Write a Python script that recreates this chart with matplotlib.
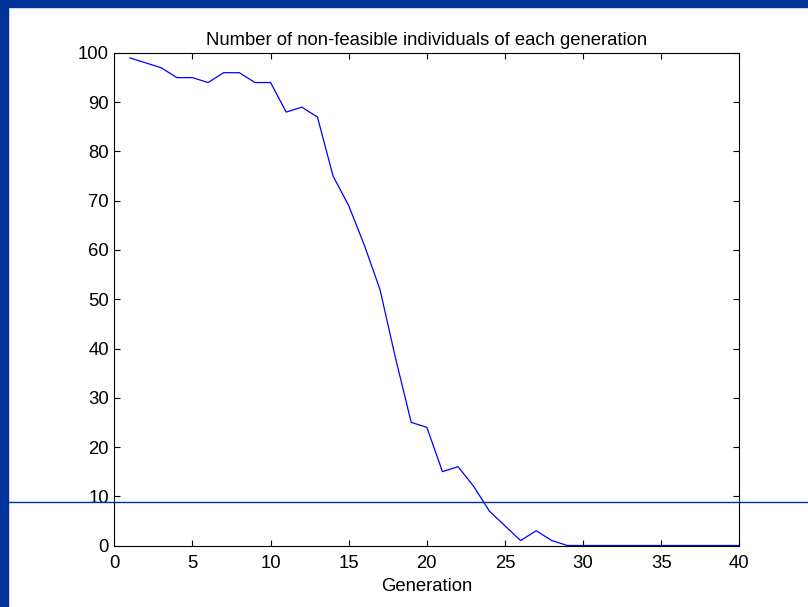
import matplotlib
matplotlib.use("Agg")
from matplotlib import pyplot as plt
from matplotlib.patches import Rectangle
from matplotlib.lines import Line2D

# number of non-feasible individuals per generation
generation = list(range(1, 41))
non_feasible = [99, 98, 97, 95, 95, 94, 96, 96, 94, 94,
                88, 89, 87, 75, 69, 61, 52, 38, 25, 24,
                15, 16, 12, 7, 4, 1, 3, 1, 0, 0,
                0, 0, 0, 0, 0, 0, 0, 0, 0, 0]

xticks = [0, 5, 10, 15, 20, 25, 30, 35, 40]
yticks = [0, 10, 20, 30, 40, 50, 60, 70, 80, 90, 100]

plt.rcParams['font.family'] = ['Liberation Sans', 'DejaVu Sans']
plt.rcParams['font.size'] = 13.3

fig = plt.figure(figsize=(8.08, 6.07), dpi=100)
ax = fig.add_axes([0.1415, 0.1013, 0.7735, 0.8114])

ax.plot(generation, non_feasible, color='#0000ff', lw=0.9)
ax.set_xlim(0, 40)
ax.set_ylim(0, 100)
ax.set_xticks(xticks)
ax.set_yticks(yticks)
ax.tick_params(direction='in', top=True, right=True, length=4, width=0.8,
               labelsize=13.3)
ax.tick_params(axis='x', pad=6.5)
ax.tick_params(axis='y', pad=4)
for s in ax.spines.values():
    s.set_linewidth(0.8)
ax.set_title('Number of non-feasible individuals of each generation',
             fontsize=13.3, pad=6)
ax.set_xlabel('Generation', fontsize=13.3, labelpad=4.5)

# slide decoration: blue border strips and a horizontal rule
fig.patches.append(Rectangle((0, 1 - 7/607), 1, 7/607, transform=fig.transFigure,
                             color='#003399', zorder=0))
fig.patches.append(Rectangle((0, 0), 8/808, 1, transform=fig.transFigure,
                             color='#003399', zorder=0))
fig.add_artist(Line2D([8/808, 1], [1 - 502/607, 1 - 502/607], transform=fig.transFigure,
                      color='#003399', lw=1.0, zorder=5))

fig.savefig('out.png', dpi=100)
